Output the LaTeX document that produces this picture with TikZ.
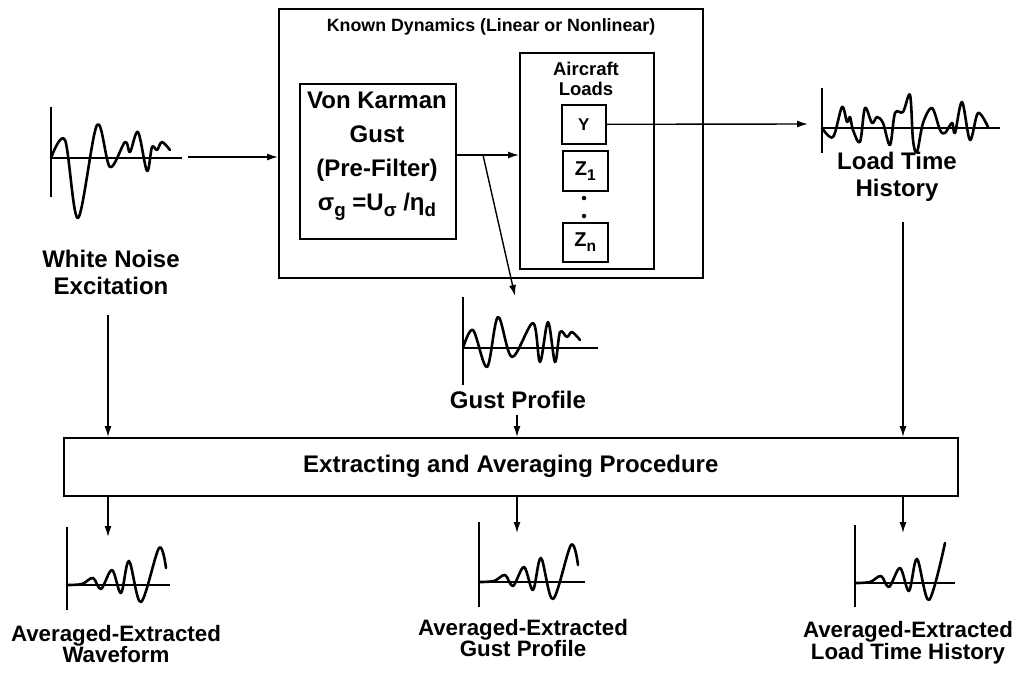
\documentclass[tikz,border=0pt]{standalone}
\usepackage{fontspec}
\setmainfont{Liberation Sans}
\usetikzlibrary{arrows.meta}
\newcommand\lowsub[1]{\raisebox{-0.45ex}{\scalebox{0.78}{#1}}}
\begin{document}
\begin{tikzpicture}[x=1pt,y=-1pt,
  box/.style={draw, line width=1.6pt, inner sep=0pt, anchor=north west},
  arr/.style={line width=1.4pt, -{Latex[length=11pt,width=7pt]}},
  wave/.style={line width=2.6pt, line join=round, line cap=round},
  axisline/.style={line width=2pt},
  lbl/.style={font=\fontsize{24}{27}\selectfont\bfseries, align=center, inner sep=0pt},
  lbltwo/.style={font=\fontsize{22.3}{20}\selectfont\bfseries, align=center, inner sep=0pt},
  dot/.style={circle, fill, inner sep=0pt, minimum size=4.5pt}]
\useasboundingbox (0,0) rectangle (1015,675);

% main boxes
\node[box, minimum width=424pt, minimum height=269pt] (kd) at (278,8) {};
\node[font=\fontsize{17.8}{20}\selectfont\bfseries, inner sep=0pt] (kdt) at (491,27) {Known Dynamics (Linear or Nonlinear)};
\node[box, minimum width=156pt, minimum height=155pt] (vk) at (299,83) {};
\node[font=\fontsize{24}{34}\selectfont\bfseries, align=center, inner sep=0pt] (vkt) at (377,156)
  {Von Karman\\Gust\\(Pre-Filter)\\σ\lowsub{g} =U\lowsub{σ} /η\lowsub{d}};
\node[box, minimum width=134pt, minimum height=216pt] (ac) at (519,52) {};
\node[font=\fontsize{18.5}{20}\selectfont\bfseries, align=center, inner sep=0pt] (act) at (586,79) {Aircraft\\Loads};
\node[box, minimum width=44pt, minimum height=39pt, font=\fontsize{17}{17}\selectfont\bfseries] (y) at (561,104) {Y};
\node[box, minimum width=45pt, minimum height=40pt, font=\fontsize{20}{20}\selectfont\bfseries] (z1) at (562,150) {Z\lowsub{1}};
\node[dot] (d1) at (584,198) {};
\node[dot] (d2) at (584,216) {};
\node[box, minimum width=45pt, minimum height=39pt, font=\fontsize{20}{20}\selectfont\bfseries] (zn) at (562,222) {Z\lowsub{n}};
\node[box, minimum width=894pt, minimum height=58pt, font=\fontsize{24}{27}\selectfont\bfseries] (ex) at (63,437) {Extracting and Averaging Procedure};

% labels
\node[lbl] (wnl) at (111,272) {White Noise\\Excitation};
\node[lbl] (ltl) at (897,177) {Load Time\\History};
\node[lbl] (gpl) at (518,400) {Gust Profile};
\node[lbltwo] (l1) at (116,644) {Averaged-Extracted\\Waveform};
\node[lbltwo] (l2) at (523,638) {Averaged-Extracted\\Gust Profile};
\node[lbltwo] (l3) at (908,643) {Averaged-Extracted\\Load Time History};

% connectors
\coordinate (wnout) at (188,157);
\draw[arr] (wnout) -- (wnout -| kd.west);
\coordinate (j) at (483,155);
\draw[arr] (vk.east |- j) -- (ac.west |- j);
\coordinate (gptip) at (515,296);
\draw[arr] (j) -- (gptip);
\coordinate (ltin) at (808,124);
\draw[arr] (y.east) -- (ltin);
\coordinate (wnd) at (108,315);
\draw[arr] (wnd) -- (wnd |- ex.north);
\coordinate (gpd) at (517,415);
\draw[arr] (gpd) -- (gpd |- ex.north);
\coordinate (ltd) at (903,222);
\draw[arr] (ltd) -- (ltd |- ex.north);
\coordinate (b1) at (108,537);
\coordinate (b2) at (517,533);
\coordinate (b3) at (903,533);
\draw[arr] (b1 |- ex.south) -- (b1);
\draw[arr] (b2 |- ex.south) -- (b2);
\draw[arr] (b3 |- ex.south) -- (b3);

% white noise waveform
\draw[axisline] (51,107) -- (51,197);
\draw[axisline] (51,158) -- (182,158);
\draw[wave] plot[smooth, tension=0.55] coordinates {(51,158) (65,140) (78,218) (97,125) (110,167) (125,142) (130,152) (138,132) (147,171) (152,147) (157,150) (162,142) (170,150)};

% gust profile waveform
\draw[axisline] (463,297) -- (463,385);
\draw[axisline] (463,348) -- (598,348);
\draw[wave] plot[smooth, tension=0.55] coordinates {(463,348) (473,330) (487,367) (498,317) (512,357) (533,323) (540,362) (548,322) (555,362) (560,332) (567,337) (572,332) (580,340)};

% load time history waveform
\draw[axisline] (822,88) -- (822,153);
\draw[axisline] (822,128) -- (1000,128);
\draw[wave] plot[smooth, tension=0.55] coordinates {(822,128) (833,137) (842,107) (847,122) (850,117) (853,130) (860,142) (865,108) (872,123) (877,117) (883,123) (890,145) (895,113) (903,112) (910,95) (913,140) (917,152) (923,123) (932,108) (940,130) (945,133) (952,123) (955,133) (962,102) (970,140) (978,113) (988,127)};

% averaged waveforms
\begin{scope}[shift={(67,585)}]
\draw[axisline] (0,-58) -- (0,25);
\draw[axisline] (0,0) -- (103,0);
\draw[wave] plot[smooth, tension=0.55] coordinates {(0,0) (15,-1) (26,-7) (34,4) (45,-15) (54,8) (62,-24) (74,17) (92,-37) (99,-17)};
\end{scope}
\begin{scope}[shift={(479,582)}]
\draw[axisline] (0,-60) -- (0,25);
\draw[axisline] (0,0) -- (106,0);
\draw[wave] plot[smooth, tension=0.55] coordinates {(0,0) (15,-1) (26,-7) (34,4) (45,-15) (54,8) (62,-24) (74,17) (92,-37) (99,-17)};
\end{scope}
\begin{scope}[shift={(855,583)}]
\draw[axisline] (0,-58) -- (0,24);
\draw[axisline] (0,0) -- (100,0);
\draw[wave] plot[smooth, tension=0.55] coordinates {(0,0) (15,-1) (26,-7) (34,4) (45,-15) (54,8) (62,-24) (74,17) (90,-40)};
\end{scope}
\end{tikzpicture}
\end{document}
